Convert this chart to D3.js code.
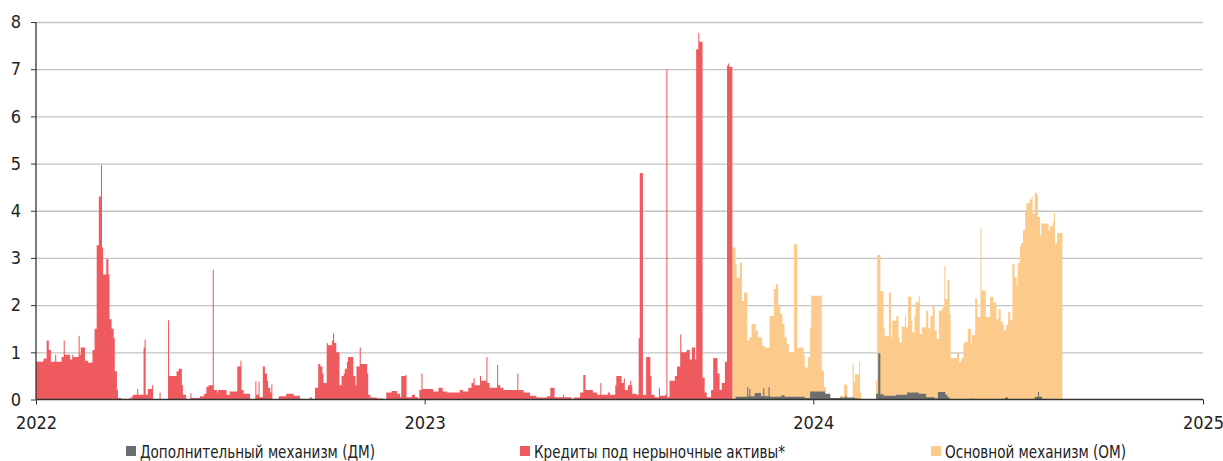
<!DOCTYPE html>
<html><head><meta charset="utf-8">
<script src="https://cdn.jsdelivr.net/npm/d3@7"></script>
<style>body{margin:0;background:#fff} svg{display:block}</style>
</head><body><svg id="c" width="1223" height="461"></svg>
<script>
// ---- data (day offset from startDate, value; value holds until next step) ----
const startDate = "2022-01-01";
const endDate = "2025-01-01";
const yearTicks = ["2022-01-01","2023-01-01","2024-01-01","2025-01-01"];
const yTicks = [0,1,2,3,4,5,6,7,8];
const seriesNames = ["Дополнительный механизм (ДМ)","Кредиты под нерыночные активы*","Основной механизм (ОМ)"];

const redSteps = [
[0,0.8],[7,0.87],[10,1.25],[12,1.05],[14,0.8],[18,0.95],[19,0.8],[24,0.9],[26,1.25],[27,0.95],
[32,0.85],[34,0.95],[35,0.9],[40,1.35],[41,0.95],[42,1.1],[46,0.82],[49,0.78],[53,1.05],[55,1.5],
[57,3.27],[59,4.3],[61,4.97],[62,3.22],[63,2.65],[66,2.97],[68,2.65],[69,1.7],[71,1.5],[73,1.3],
[74,0.6],[76,0.2],[77,0.03],[80,0],[88,0.05],[89,0],[90,0.07],[91,0.1],[95,0.22],[96,0.1],
[101,1.1],[102,1.27],[103,0.1],[105,0.22],[109,0.3],[110,0.01],[116,0.15],[117,0.01],[124,1.68],[125,0.5],
[132,0.6],[134,0.65],[137,0.3],[138,0.1],[141,0],[145,0.13],[146,0.03],[154,0.07],[158,0.12],[160,0.27],
[162,0.3],[166,2.75],[167,0.2],[170,0.15],[171,0.2],[179,0.1],[182,0.17],[189,0.7],[192,0.82],[193,0.2],
[195,0.12],[201,0],[206,0.38],[207,0.1],[209,0.38],[210,0.05],[213,0.7],[215,0.55],[217,0.4],[218,0.25],
[220,0.15],[221,0.32],[222,0],[228,0.07],[235,0.12],[242,0.08],[248,0.01],[257,0.05],[259,0],[262,0.25],
[265,0.75],[267,0.7],[269,0.55],[270,0.35],[273,1.2],[274,1.15],[278,1.25],[279,1.4],[280,1.2],[282,1.0],
[285,0.3],[287,0.5],[289,0.55],[290,0.65],[292,0.8],[293,0.9],[298,0.5],[300,0.3],[301,0.7],[304,1.1],
[305,0.75],[311,0.55],[312,0.1],[314,0.04],[320,0.02],[326,0],[329,0.15],[334,0.18],[339,0.12],[342,0.05],
[343,0.5],[347,0.52],[348,0.05],[353,0.1],[356,0.05],[359,0],[360,0.2],[362,0.55],[363,0.22],[373,0.17],
[378,0.25],[382,0.17],[386,0.15],[398,0.2],[401,0.17],[406,0.25],[409,0.35],[411,0.45],[412,0.3],[417,0.5],
[418,0.4],[423,0.9],[424,0.35],[426,0.25],[433,0.73],[434,0.3],[436,0.25],[439,0.2],[452,0.55],[453,0.2],
[458,0.15],[464,0.08],[470,0.04],[480,0.07],[483,0.25],[487,0.05],[495,0.1],[496,0.05],[503,0],[505,0.04],
[511,0.15],[514,0.52],[516,0.2],[523,0.15],[527,0.1],[530,0.35],[531,0.1],[537,0.15],[539,0.1],[544,0.3],
[545,0.5],[550,0.35],[552,0.45],[553,0.2],[556,0.3],[558,0.4],[559,0.3],[560,0.12],[564,0.1],[566,1.3],
[567,4.8],[570,0.1],[573,0.9],[577,0.5],[578,0.1],[581,0.05],[585,0.25],[586,0.08],[591,0.1],[592,7.0],
[593,0.05],[595,0.4],[600,0.5],[602,0.7],[605,1.38],[606,1.0],[611,1.05],[614,0.85],[616,1.1],[619,0.85],
[620,7.42],[622,7.77],[623,7.58],[626,0.46],[628,0.15],[630,0.05],[634,0.2],[636,0.88],[640,0.55],[642,0.2],
[644,0.35],[647,0.8],[649,7.07],[650,7.12],[651,7.05],[654,0]
];

const orangeSteps = [
[654,3.22],[657,2.87],[658,2.58],[661,2.9],[663,2.09],[665,2.27],[668,1.25],[670,1.32],[672,1.6],[676,1.46],
[678,1.32],[682,1.14],[684,1.1],[689,1.77],[693,2.34],[695,2.44],[697,1.99],[699,1.81],[701,1.6],[703,1.32],
[705,1.18],[707,1.0],[712,3.29],[715,1.07],[716,1.1],[721,0.93],[722,0.68],[725,0.9],[727,1.53],[728,2.2],
[738,0.61],[740,0.26],[742,0.12],[744,0],[755,0.08],[758,0],[759,0.33],[760,0.3],[762,0],[767,0.77],
[768,0.37],[769,0.53],[773,0.79],[774,0.15],[775,0],[789,0.4],[790,3.06],[793,2.3],[796,1.53],[797,1.35],
[801,2.27],[803,1.32],[804,1.67],[808,1.77],[810,1.32],[811,1.21],[813,1.54],[816,1.77],[817,1.53],[819,2.18],
[822,1.67],[823,1.42],[825,1.77],[826,2.06],[829,2.2],[830,1.39],[832,1.53],[836,1.88],[838,1.51],[840,1.77],
[842,1.99],[844,1.46],[846,1.28],[848,1.88],[851,1.95],[853,2.83],[854,2.13],[856,2.53],[858,1.81],[859,0.88],
[865,1.0],[867,0.8],[869,0.88],[871,1.19],[872,1.22],[875,1.5],[878,1.19],[879,1.36],[882,2.14],[884,1.75],
[887,3.64],[888,2.31],[892,1.75],[896,2.18],[899,2.05],[902,1.7],[904,1.92],[906,1.65],[908,1.58],[909,1.47],
[911,1.58],[913,1.86],[915,1.68],[917,2.87],[919,2.59],[921,2.42],[922,2.9],[924,3.24],[925,3.32],[927,3.59],
[929,3.98],[930,4.16],[933,4.24],[935,4.3],[936,3.94],[938,4.38],[940,4.33],[941,3.87],[943,3.48],[944,3.73],
[951,3.57],[952,3.67],[955,3.77],[956,3.96],[957,3.31],[959,3.53],[964,0]
];

const greySteps = [
[657,0.06],[668,0.26],[669,0.07],[670,0.22],[671,0.07],[675,0.14],[681,0.07],[683,0.24],[684,0.07],[688,0.26],
[689,0.06],[700,0.09],[703,0.06],[722,0.03],[727,0.17],[741,0.12],[746,0.03],[755,0.04],[760,0.08],[761,0.04],
[769,0.02],[774,0],[789,0.12],[791,0.98],[793,0.11],[796,0.08],[808,0.1],[818,0.15],[829,0.12],[836,0.05],
[844,0.02],[847,0.16],[854,0.1],[856,0.05],[858,0.01],[862,0],[879,0.02],[880,0],[910,0.04],[913,0],
[938,0.06],[941,0.16],[942,0.06],[945,0]
];

// ---- drawing ----
const colors = ["#6d6e70","#ef5a5f","#fccb8b"];
const FONT = "'Liberation Sans Narrow','DejaVu Sans Condensed','Roboto',sans-serif";
const L = 36, R = 1203, T = 22, B = 399.5;
const svg = d3.select("#c");
const parse = d3.utcParse("%Y-%m-%d");
const t0 = parse(startDate);
const x = d3.scaleUtc().domain([t0, parse(endDate)]).range([L, R]);
const y = d3.scaleLinear().domain([0, 8]).range([B, T]);
const toDate = d => d3.utcDay.offset(t0, d);

// grid
const grid = svg.append("g").attr("transform", `translate(${L},0)`)
  .call(d3.axisLeft(y).tickValues(yTicks.filter(v => v > 0)).tickSize(-(R - L)).tickFormat(""));
grid.select(".domain").remove();
grid.selectAll("line").attr("stroke", "#c4c4c4").attr("stroke-width", 1.3);

// areas
const area = d3.area().curve(d3.curveStepAfter)
  .x(d => x(toDate(d[0]))).y0(y(0)).y1(d => y(d[1]));
[[orangeSteps, colors[2]], [redSteps, colors[1]], [greySteps, colors[0]]].forEach(([data, c]) => {
  svg.append("path").datum(data).attr("d", area).attr("fill", c);
});

// y axis
const ya = svg.append("g").attr("transform", `translate(${L},0)`)
  .call(d3.axisLeft(y).tickValues(yTicks).tickSize(5).tickPadding(10).tickFormat(d3.format("d")));
ya.select(".domain").attr("stroke", "#333").attr("stroke-width", 1.3).attr("d", `M-0,${B}V${T}`);
ya.selectAll("line").attr("stroke", "#333");
ya.selectAll("text").attr("font-family", FONT).attr("font-size", 18).attr("fill", "#222");

// x axis
const xa = svg.append("g").attr("transform", `translate(0,${B})`)
  .call(d3.axisBottom(x).tickValues(yearTicks.map(parse)).tickSize(5).tickPadding(12).tickFormat(d3.utcFormat("%Y")));
xa.select(".domain").attr("stroke", "#333").attr("stroke-width", 1.3).attr("d", `M${L},0H${R}`);
xa.selectAll("line").attr("stroke", "#333");
xa.selectAll("text").attr("font-family", FONT).attr("font-size", 18).attr("fill", "#222");

// legend
const legendX = [126, 520, 931];
const legendW = [235, 251, 181];
const lg = svg.append("g");
seriesNames.forEach((n, i) => {
  lg.append("rect").attr("x", legendX[i]).attr("y", 446).attr("width", 10).attr("height", 10).attr("fill", colors[i]);
  lg.append("text").attr("x", legendX[i] + 14).attr("y", 458).text(n)
    .attr("textLength", legendW[i]).attr("lengthAdjust", "spacingAndGlyphs")
    .attr("font-family", FONT).attr("font-size", 17).attr("fill", "#222");
});
</script></body></html>
